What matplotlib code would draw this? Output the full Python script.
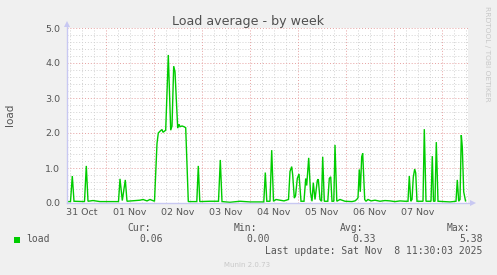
import matplotlib
matplotlib.use("Agg")
import matplotlib.pyplot as plt
from matplotlib.patches import Rectangle
import numpy as np

# ---- data (hours since 31 Oct 00:00, load average) ----
hours = [4.5, 6.25, 7.15, 8.0, 13.25, 14.15, 15.0, 17.5, 21.0, 30.25, 31.0, 32.15,
         33.65, 34.5, 41.0, 42.5, 44.5, 46.0, 48.25, 49.5, 50.15, 51.0, 52.0, 52.5,
         53.85, 55.15, 56.35, 57.0, 57.85, 58.5, 59.85, 60.5, 61.0, 62.0, 63.0, 63.85,
         65.15, 69.4, 70.15, 70.9, 76.0, 80.25, 81.15, 82.0, 86.0, 91.0, 96.0, 102.9,
         103.65, 104.4, 106.0, 106.85, 107.75, 109.0, 111.0, 113.0, 115.25, 116.0,
         116.85, 117.35, 118.15, 118.75, 119.65, 120.5, 121.5, 123.0, 123.85, 124.35,
         125.35, 126.25, 127.0, 127.65, 128.5, 129.65, 130.15, 131.0, 131.75, 132.35,
         133.15, 134.9, 135.65, 136.35, 137.0, 137.9, 138.5, 139.4, 141.0, 143.5,
         147.0, 148.5, 149.35, 150.0, 150.65, 151.15, 151.85, 152.35, 153.35, 154.0,
         155.0, 156.5, 158.5, 161.0, 163.5, 166.0, 168.5, 171.0, 173.5, 175.0, 175.65,
         176.4, 177.0, 177.65, 178.35, 178.85, 179.5, 182.5, 183.15, 184.0, 186.5,
         187.15, 187.75, 188.5, 189.15, 190.0, 193.5, 196.0, 199.0, 199.65, 200.35,
         201.0, 201.65, 202.15, 202.85, 203.75]
load = [0.04, 0.04, 0.77, 0.05, 0.04, 1.06, 0.05, 0.07, 0.04, 0.04, 0.69, 0.07,
        0.66, 0.05, 0.08, 0.10, 0.06, 0.10, 0.05, 1.70, 2.00, 2.05, 2.10, 2.02,
        2.08, 4.23, 2.08, 2.20, 3.91, 3.75, 2.14, 2.25, 2.18, 2.20, 2.18, 2.15,
        0.04, 0.04, 1.06, 0.04, 0.05, 0.05, 1.23, 0.04, 0.02, 0.05, 0.03, 0.03,
        0.87, 0.05, 0.05, 1.51, 0.05, 0.10, 0.08, 0.06, 0.10, 0.90,
        1.04, 0.80, 0.14, 0.20, 0.70, 0.83, 0.05, 0.05, 0.70, 0.50,
        1.29, 0.30, 0.05, 0.58, 0.10, 0.64, 0.68, 0.10, 0.05, 1.32,
        0.05, 0.05, 0.70, 0.75, 0.05, 0.05, 1.66, 0.05, 0.10, 0.05,
        0.04, 0.06, 0.10, 0.15, 0.96, 0.32, 1.32, 1.42, 0.10, 0.05,
        0.10, 0.06, 0.08, 0.05, 0.07, 0.06, 0.04, 0.06, 0.05, 0.05, 0.77,
        0.05, 0.10, 0.74, 0.97, 0.86, 0.05, 0.05, 2.11, 0.05, 0.05,
        1.34, 0.05, 0.05, 1.74, 0.05, 0.04, 0.03, 0.05, 0.66, 0.05,
        0.10, 1.94, 1.60, 0.32, 0.06]
day_labels = ["31 Oct", "01 Nov", "02 Nov", "03 Nov", "04 Nov", "05 Nov", "06 Nov", "07 Nov"]
y_ticks = [0.0, 1.0, 2.0, 3.0, 4.0, 5.0]
legend_name = "load"
stat_names = ["Cur:", "Min:", "Avg:", "Max:"]
stat_values = ["0.06", "0.00", "0.33", "5.38"]
title = "Load average - by week"
last_update = "Last update: Sat Nov  8 11:30:03 2025"

W, H = 497, 275
fig = plt.figure(figsize=(W / 100, H / 100), dpi=100, facecolor="#F0F0F0")

def fx(px):
    return px / W

def fy(py):
    return 1 - py / H

L, R, T, B = 67, 468, 28, 203
ax = fig.add_axes([fx(L), fy(B), fx(R) - fx(L), fy(T) - fy(B)])
ax.set_facecolor("white")

ax.set_xlim(4.5, 205)
ax.set_ylim(0, 5.0)

# grids
major_x = np.arange(24, 205, 24)
minor_x = [h for h in np.arange(6, 205, 6) if h % 24 != 0]
minor_y = [v for v in np.arange(0.2, 5.0, 0.2) if abs(v - round(v)) > 1e-6]
for h in minor_x:
    ax.axvline(h, color="#D2D2D2", lw=0.7, ls=(0, (1, 2)), zorder=1)
for v in minor_y:
    ax.axhline(v, color="#D2D2D2", lw=0.7, ls=(0, (1, 2)), zorder=1)
for h in major_x:
    ax.axvline(h, color="#E6A0A0", lw=0.7, ls=(0, (1, 2)), zorder=1.5)
for v in y_ticks[1:]:
    ax.axhline(v, color="#E6A0A0", lw=0.7, ls=(0, (1, 2)), zorder=1.5)

ax.plot(hours, load, color="#00CC00", lw=1.0, zorder=3, solid_joinstyle="miter")

for s in ax.spines.values():
    s.set_visible(False)

# axes lines with arrows
axcol = "#C8C8F2"
ax.plot([0, 0], [0, 1.015], color=axcol, lw=1.0, transform=ax.transAxes, clip_on=False, zorder=4)
ax.plot([0, 1.008], [0, 0], color=axcol, lw=1.0, transform=ax.transAxes, clip_on=False, zorder=4)
ax.plot([0], [1.022], marker="^", ms=4.5, color=axcol, transform=ax.transAxes, clip_on=False, zorder=4, mew=0)
ax.plot([1.012], [0], marker=">", ms=4.5, color=axcol, transform=ax.transAxes, clip_on=False, zorder=4, mew=0)

txtcol = "#555555"
ax.set_yticks(y_ticks)
ax.set_yticklabels([f"{v:.1f}" for v in y_ticks], fontsize=6.8, color=txtcol)
ax.set_xticks(np.arange(12, 12 + 24 * len(day_labels), 24))
ax.set_xticklabels(day_labels, fontsize=6.8, color=txtcol)
ax.tick_params(axis="y", length=0, pad=4.8)
ax.tick_params(axis="x", length=0, pad=3.5)

# title and labels
fig.text(fx(248), fy(24.5), title, ha="center", va="baseline", fontsize=9.1, color="#505050")
fig.text(fx(10), fy(114.5), "load", ha="center", va="center", rotation=90, fontsize=7.5, color=txtcol)
fig.text(fx(487), fy(53.5), "RRDTOOL / TOBI OETIKER", ha="center", va="center", rotation=270,
         fontsize=5.4, color="#C8C8C8")

# legend
mono = "DejaVu Sans Mono"
fig.patches.append(Rectangle((fx(14), fy(242.5)), fx(6), 6 / H, transform=fig.transFigure,
                             facecolor="#00CC00", edgecolor="none"))
fig.text(fx(26.5), fy(242.3), legend_name, ha="left", va="baseline", fontsize=7, family=mono, color=txtcol)
name_right = [150.5, 257, 363.5, 470.5]
val_right = [162.5, 270, 375.8, 482.5]
for n, v, xn, xv in zip(stat_names, stat_values, name_right, val_right):
    fig.text(fx(xn), fy(230.8), n, ha="right", va="baseline", fontsize=7, family=mono, color=txtcol)
    fig.text(fx(xv), fy(242.3), v, ha="right", va="baseline", fontsize=7, family=mono, color=txtcol)
fig.text(fx(482.5), fy(254.3), last_update, ha="right", va="baseline", fontsize=7, family=mono, color=txtcol)
fig.text(fx(247.5), fy(267.3), "Munin 2.0.73", ha="center", va="baseline", fontsize=5.0, color="#C8C8C8")

fig.savefig("out.png", dpi=100, facecolor=fig.get_facecolor())
